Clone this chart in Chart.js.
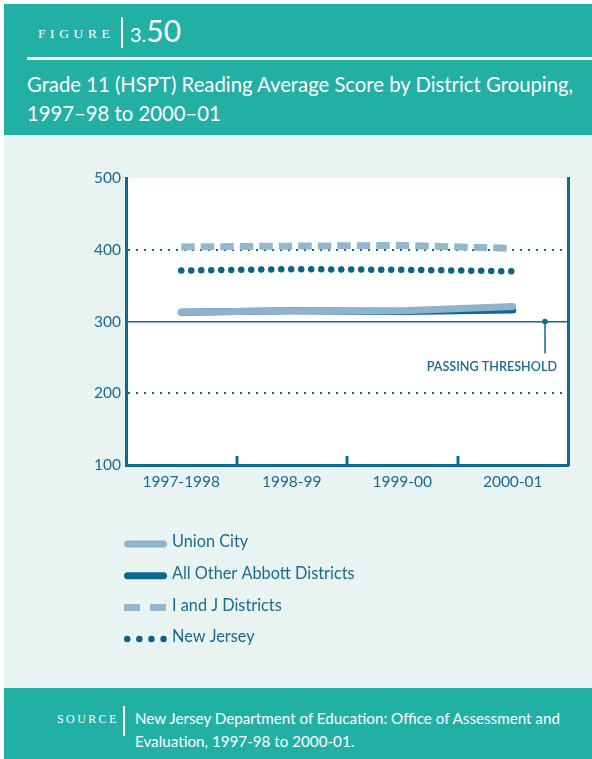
<!DOCTYPE html>
<html><head><meta charset="utf-8">
<script src="https://cdn.jsdelivr.net/npm/chart.js@4/dist/chart.umd.min.js"></script>
<style>
body{margin:0;background:#fff;width:592px;height:759px;position:relative;overflow:hidden;font-family:Lato,"Open Sans",sans-serif;}
.abs{position:absolute;}
#hdr{left:4px;top:4px;width:588px;height:131px;background:#22b0a5;}
#mid{left:4px;top:135px;width:588px;height:553px;background:#e8f3f2;}
#ftr{left:4px;top:688px;width:588px;height:71px;background:#22b0a5;}
.w{color:#fff;white-space:nowrap;}
</style></head>
<body>
<div id="hdr" class="abs"></div>
<div id="mid" class="abs"></div>
<div id="ftr" class="abs"></div>
<div class="abs w" style="left:38px;top:26px;font-family:'Liberation Serif',serif;font-size:13.5px;letter-spacing:4.6px;line-height:16px;">FIGURE</div>
<div class="abs" style="left:121px;top:17px;width:1.5px;height:31px;background:#fff"></div>
<div class="abs w" style="left:130px;top:12px;line-height:36px;"><span style="font-size:20px">3.</span><span style="font-size:30px">50</span></div>
<div class="abs" style="left:27px;top:57px;width:565px;height:3px;background:#fff"></div>
<div class="abs w" style="left:27px;top:70px;font-size:20.3px;line-height:29px;">Grade 11 (HSPT) Reading Average Score by District Grouping,<br>1997–98 to 2000–01</div>
<canvas id="c" class="abs" width="592" height="553" style="left:0;top:135px;width:592px;height:553px;"></canvas>
<div class="abs w" style="left:57px;top:711px;font-family:'Liberation Serif',serif;font-size:12px;letter-spacing:2.4px;line-height:16px;">SOURCE</div>
<div class="abs" style="left:123px;top:706px;width:1.5px;height:30px;background:#fff"></div>
<div class="abs w" style="left:135px;top:707px;font-size:15.2px;line-height:23px;">New Jersey Department of Education: Office of Assessment and<br>Evaluation, 1997-98 to 2000-01.</div>
<script>
const categories = ['1997-1998', '1998-99', '1999-00', '2000-01'];
const seriesNames = ['Union City', 'All Other Abbott Districts', 'I and J Districts', 'New Jersey'];
const unionCity = [313, 315, 315, 321];
const otherAbbott = [313, 315, 314, 316];
const iAndJ = [404, 405, 406, 402];
const newJersey = [371, 373, 372, 370];
const yTicks = [100, 200, 300, 400, 500];
const dottedGrid = [200, 400];
const passingThreshold = 300;
const thresholdLabel = 'PASSING THRESHOLD';

const axisColor = '#0d6a90';
const textColor = '#1b6b90';
const FONT = 'Lato, "Open Sans", sans-serif';

const bgPlugin = {
  id: 'bg',
  beforeDraw(chart) {
    const a = chart.chartArea, ctx = chart.ctx;
    ctx.save(); ctx.fillStyle = '#ffffff';
    ctx.fillRect(a.left, a.top, a.right - a.left, a.bottom - a.top);
    ctx.restore();
  }
};

const extrasPlugin = {
  id: 'extras',
  afterDraw(chart) {
    const ctx = chart.ctx, a = chart.chartArea;
    const xs = chart.scales.x, ys = chart.scales.y;
    ctx.save();
    ctx.strokeStyle = axisColor; ctx.lineWidth = 3;
    for (let i = 1; i < categories.length; i++) {
      const x = Math.round((xs.getPixelForValue(i - 1) + xs.getPixelForValue(i)) / 2);
      ctx.beginPath(); ctx.moveTo(x, a.bottom); ctx.lineTo(x, a.bottom - 9); ctx.stroke();
    }
    const ty = ys.getPixelForValue(passingThreshold);
    const mx = a.right - 23;
    ctx.lineWidth = 1.5;
    ctx.beginPath(); ctx.moveTo(mx, ty); ctx.lineTo(mx, ty + 32); ctx.stroke();
    ctx.fillStyle = axisColor;
    ctx.beginPath(); ctx.arc(mx, ty, 2.8, 0, Math.PI * 2); ctx.fill();
    ctx.fillStyle = textColor;
    ctx.font = '600 12.6px ' + FONT;
    ctx.textAlign = 'right'; ctx.textBaseline = 'middle';
    ctx.fillText(thresholdLabel, a.right - 11, ty + 45);
    const lx0 = 124, lx1 = 167, tx = 172;
    chart.data.datasets.forEach((ds, i) => {
      const y = a.bottom + 79 + i * 31.7;
      ctx.save();
      ctx.strokeStyle = ds.borderColor;
      ctx.lineWidth = ds.borderWidth;
      ctx.lineCap = ds.borderCapStyle || 'butt';
      ctx.setLineDash(ds.legendDash || []);
      const inset = ctx.lineCap === 'round' ? ds.borderWidth / 2 : 0;
      ctx.beginPath(); ctx.moveTo(lx0 + inset, y); ctx.lineTo(lx1 - inset + 0.01, y); ctx.stroke();
      ctx.restore();
      ctx.fillStyle = textColor;
      ctx.font = '16.3px ' + FONT;
      ctx.textAlign = 'left'; ctx.textBaseline = 'middle';
      ctx.fillText(ds.label, tx, y - 2);
    });
    ctx.restore();
  }
};

new Chart(document.getElementById('c'), {
  type: 'line',
  data: {
    labels: categories,
    datasets: [
      { label: seriesNames[0], data: unionCity, borderColor: '#8fb3cc', borderWidth: 7,
        borderCapStyle: 'round', borderJoinStyle: 'round', pointRadius: 0, legendDash: [] },
      { label: seriesNames[1], data: otherAbbott, borderColor: '#0c6a90', borderWidth: 7,
        borderCapStyle: 'round', borderJoinStyle: 'round', pointRadius: 0, legendDash: [] },
      { label: seriesNames[2], data: iAndJ, borderColor: '#93b7d0', borderWidth: 7,
        borderDash: [13.5, 6], borderCapStyle: 'butt', pointRadius: 0, legendDash: [16, 10] },
      { label: seriesNames[3], data: newJersey, borderColor: '#0c6389', borderWidth: 6.5,
        borderDash: [0, 10], borderCapStyle: 'round', pointRadius: 0, legendDash: [0, 12.1] }
    ]
  },
  options: {
    responsive: false, maintainAspectRatio: false, devicePixelRatio: 1, animation: false,
    layout: { padding: { top: 43, left: 0, right: 0, bottom: 183 } },
    plugins: { legend: { display: false }, tooltip: { enabled: false } },
    scales: {
      x: {
        type: 'category', offset: true,
        grid: { display: true, color: 'rgba(0,0,0,0)', drawTicks: false, offset: true },
        border: { display: true, color: axisColor, width: 3 },
        ticks: { color: textColor, font: { family: FONT, size: 15.5 }, padding: 8, maxRotation: 0 },
        afterFit(s) { s.height = 40; }
      },
      y: {
        min: 100, max: 500,
        afterBuildTicks(s) { s.ticks = yTicks.map(v => ({ value: v })); },
        grid: {
          drawTicks: false,
          color: c => (c.tick && (dottedGrid.includes(c.tick.value) || c.tick.value === passingThreshold)) ? axisColor : 'rgba(0,0,0,0)',
          lineWidth: c => (c.tick && c.tick.value === passingThreshold) ? 1.5 : 2
        },
        border: {
          color: axisColor, width: 3,
          dash: c => (c.tick && dottedGrid.includes(c.tick.value)) ? [2, 6] : []
        },
        ticks: { color: textColor, font: { family: FONT, size: 15.5 }, padding: 5 },
        afterFit(s) { s.width = 126; }
      },
      y2: {
        position: 'right', min: 100, max: 500,
        grid: { display: false, drawTicks: false },
        ticks: { display: false },
        border: { display: true, color: axisColor, width: 3 },
        afterFit(s) { s.width = 24; }
      }
    }
  },
  plugins: [bgPlugin, extrasPlugin]
});
</script>
</body></html>
